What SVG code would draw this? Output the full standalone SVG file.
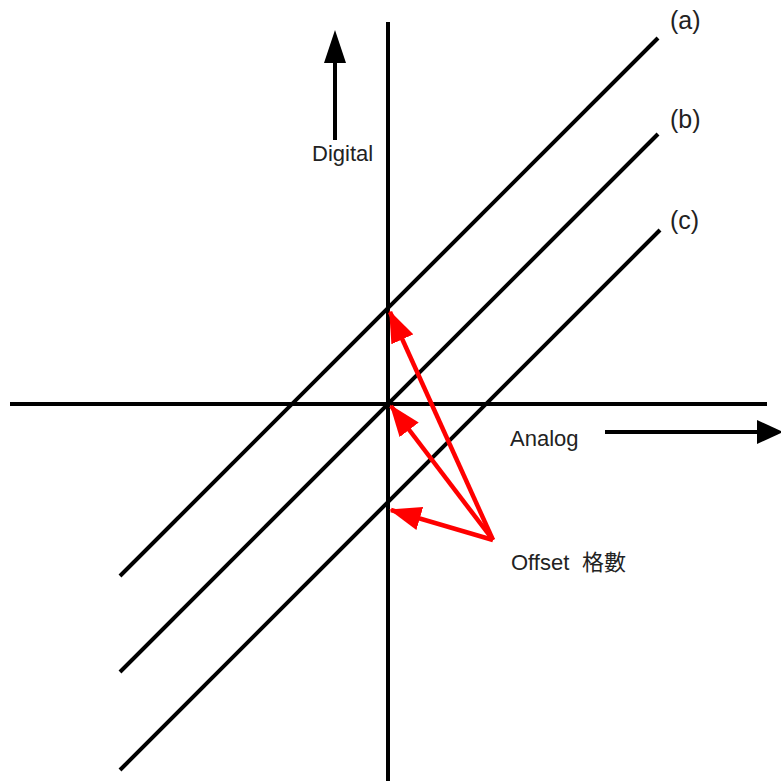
<svg xmlns="http://www.w3.org/2000/svg" width="781" height="781" viewBox="0 0 781 781">
<defs>
<style>
.ax{stroke:#000;stroke-width:4;fill:none}
.ln{stroke:#000;stroke-width:4;fill:none;stroke-linecap:butt}
.rd{stroke:#f00;stroke-width:4.5;fill:none}
.t{font-family:"Liberation Sans",Arial,sans-serif;font-size:22px;fill:#222}
.cjk{font-family:"Liberation Sans","Noto Sans CJK TC",sans-serif;font-size:22px;fill:#222}
.lb{font-family:"Liberation Sans",Arial,sans-serif;font-size:25px;fill:#222}
</style>
<marker id="rh" viewBox="0 0 32 24" refX="30" refY="12" markerWidth="32" markerHeight="24" markerUnits="userSpaceOnUse" orient="auto">
<path d="M0,0 L32,12 L0,24 z" fill="#f00"/>
</marker>
</defs>
<rect width="781" height="781" fill="#fff"/>
<g id="axes">
<line class="ax" x1="388" y1="22" x2="388" y2="781"/>
<line class="ax" x1="10" y1="404" x2="767" y2="404"/>
</g>
<g id="line-a">
<line class="ln" x1="120" y1="576" x2="658" y2="38"/>
<text class="lb" x="670" y="29">(a)</text>
</g>
<g id="line-b">
<line class="ln" x1="120" y1="672" x2="658" y2="134"/>
<text class="lb" x="670" y="128">(b)</text>
</g>
<g id="line-c">
<line class="ln" x1="120" y1="770" x2="660" y2="230"/>
<text class="lb" x="670" y="229">(c)</text>
</g>
<g id="digital">
<line class="ax" x1="335" y1="140" x2="335" y2="60"/>
<polygon points="335,30 324,63 346,63" fill="#000"/>
<text class="t" x="312" y="161">Digital</text>
</g>
<g id="analog">
<line class="ax" x1="605" y1="432" x2="760" y2="432"/>
<polygon points="783,432 757,420 757,444" fill="#000"/>
<text class="t" x="510" y="446">Analog</text>
</g>
<g id="offset">
<text class="t" x="511" y="570">Offset</text>
<text class="cjk" x="582" y="570">格數</text>
</g>
<g id="connectors">
<line class="rd" x1="493" y1="540" x2="390" y2="312" marker-end="url(#rh)"/>
<line class="rd" x1="493" y1="540" x2="391" y2="406" marker-end="url(#rh)"/>
<line class="rd" x1="493" y1="540" x2="391" y2="510" marker-end="url(#rh)"/>
</g>
</svg>
